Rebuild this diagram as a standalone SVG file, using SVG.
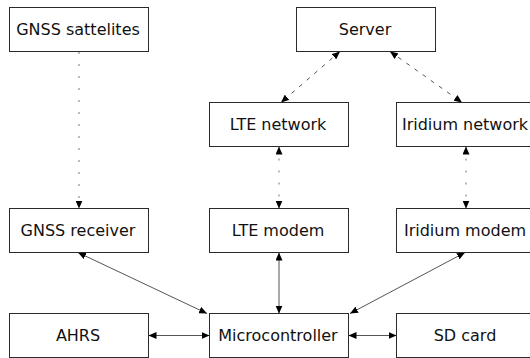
<svg xmlns="http://www.w3.org/2000/svg" width="530" height="358" viewBox="0 0 530 358">
  <style>
    .box rect { fill: #fff; stroke: #2b2b2b; stroke-width: 1; }
    .box text { font-family: "DejaVu Sans", sans-serif; font-size: 16px; fill: #111; text-anchor: middle; }
    .link { fill: none; stroke: #555; stroke-width: 1; }
    .dash { stroke-dasharray: 4 6; }
    .dot { stroke-dasharray: 2 10; stroke: #777; }
  </style>
  <defs>
    <marker id="arrow" viewBox="0 0 8 7" refX="8" refY="3.5" markerWidth="8" markerHeight="7" markerUnits="userSpaceOnUse" orient="auto-start-reverse">
      <path d="M0,0 L8,3.5 L0,7 z" fill="#000"/>
    </marker>
  </defs>
  <rect width="530" height="358" fill="#fff"/>

  <g id="connectors">
    <line class="link dot" x1="79" y1="52" x2="79" y2="208.5" marker-end="url(#arrow)"/>
    <line class="link dash" x1="340" y1="51.5" x2="281" y2="102.5" marker-start="url(#arrow)" marker-end="url(#arrow)"/>
    <line class="link dash" x1="390" y1="51.5" x2="462" y2="102.5" marker-start="url(#arrow)" marker-end="url(#arrow)"/>
    <line class="link dot" x1="279" y1="146.5" x2="279" y2="208.5" marker-start="url(#arrow)" marker-end="url(#arrow)"/>
    <line class="link dot" x1="466" y1="146.5" x2="466" y2="208.5" marker-start="url(#arrow)" marker-end="url(#arrow)"/>
    <line class="link" x1="78" y1="252.5" x2="207" y2="313.5" marker-start="url(#arrow)" marker-end="url(#arrow)"/>
    <line class="link" x1="279" y1="252.5" x2="279" y2="313.5" marker-start="url(#arrow)" marker-end="url(#arrow)"/>
    <line class="link" x1="465" y1="252.5" x2="350" y2="313.5" marker-start="url(#arrow)" marker-end="url(#arrow)"/>
    <line class="link" x1="148.5" y1="335.5" x2="209.5" y2="335.5" marker-start="url(#arrow)" marker-end="url(#arrow)"/>
    <line class="link" x1="348.5" y1="335.5" x2="396.5" y2="335.5" marker-start="url(#arrow)" marker-end="url(#arrow)"/>
  </g>

  <g id="gnss-satellites" class="box">
    <rect x="9.5" y="7.5" width="139" height="44"/>
    <text x="78" y="35.3">GNSS sattelites</text>
  </g>
  <g id="server" class="box">
    <rect x="296.5" y="7.5" width="139" height="44"/>
    <text x="365" y="35.3">Server</text>
  </g>
  <g id="lte-network" class="box">
    <rect x="209.5" y="102.5" width="139" height="44"/>
    <text x="278" y="130.3">LTE network</text>
  </g>
  <g id="iridium-network" class="box">
    <rect x="396.5" y="102.5" width="139" height="44"/>
    <text x="465" y="130.3">Iridium network</text>
  </g>
  <g id="gnss-receiver" class="box">
    <rect x="9.5" y="208.5" width="139" height="44"/>
    <text x="78" y="236.3">GNSS receiver</text>
  </g>
  <g id="lte-modem" class="box">
    <rect x="209.5" y="208.5" width="139" height="44"/>
    <text x="278" y="236.3">LTE modem</text>
  </g>
  <g id="iridium-modem" class="box">
    <rect x="396.5" y="208.5" width="139" height="44"/>
    <text x="465" y="236.3">Iridium modem</text>
  </g>
  <g id="ahrs" class="box">
    <rect x="9.5" y="313.5" width="139" height="44"/>
    <text x="78" y="341.3">AHRS</text>
  </g>
  <g id="microcontroller" class="box">
    <rect x="209.5" y="313.5" width="139" height="44"/>
    <text x="278" y="341.3">Microcontroller</text>
  </g>
  <g id="sd-card" class="box">
    <rect x="396.5" y="313.5" width="139" height="44"/>
    <text x="465" y="341.3">SD card</text>
  </g>
</svg>
